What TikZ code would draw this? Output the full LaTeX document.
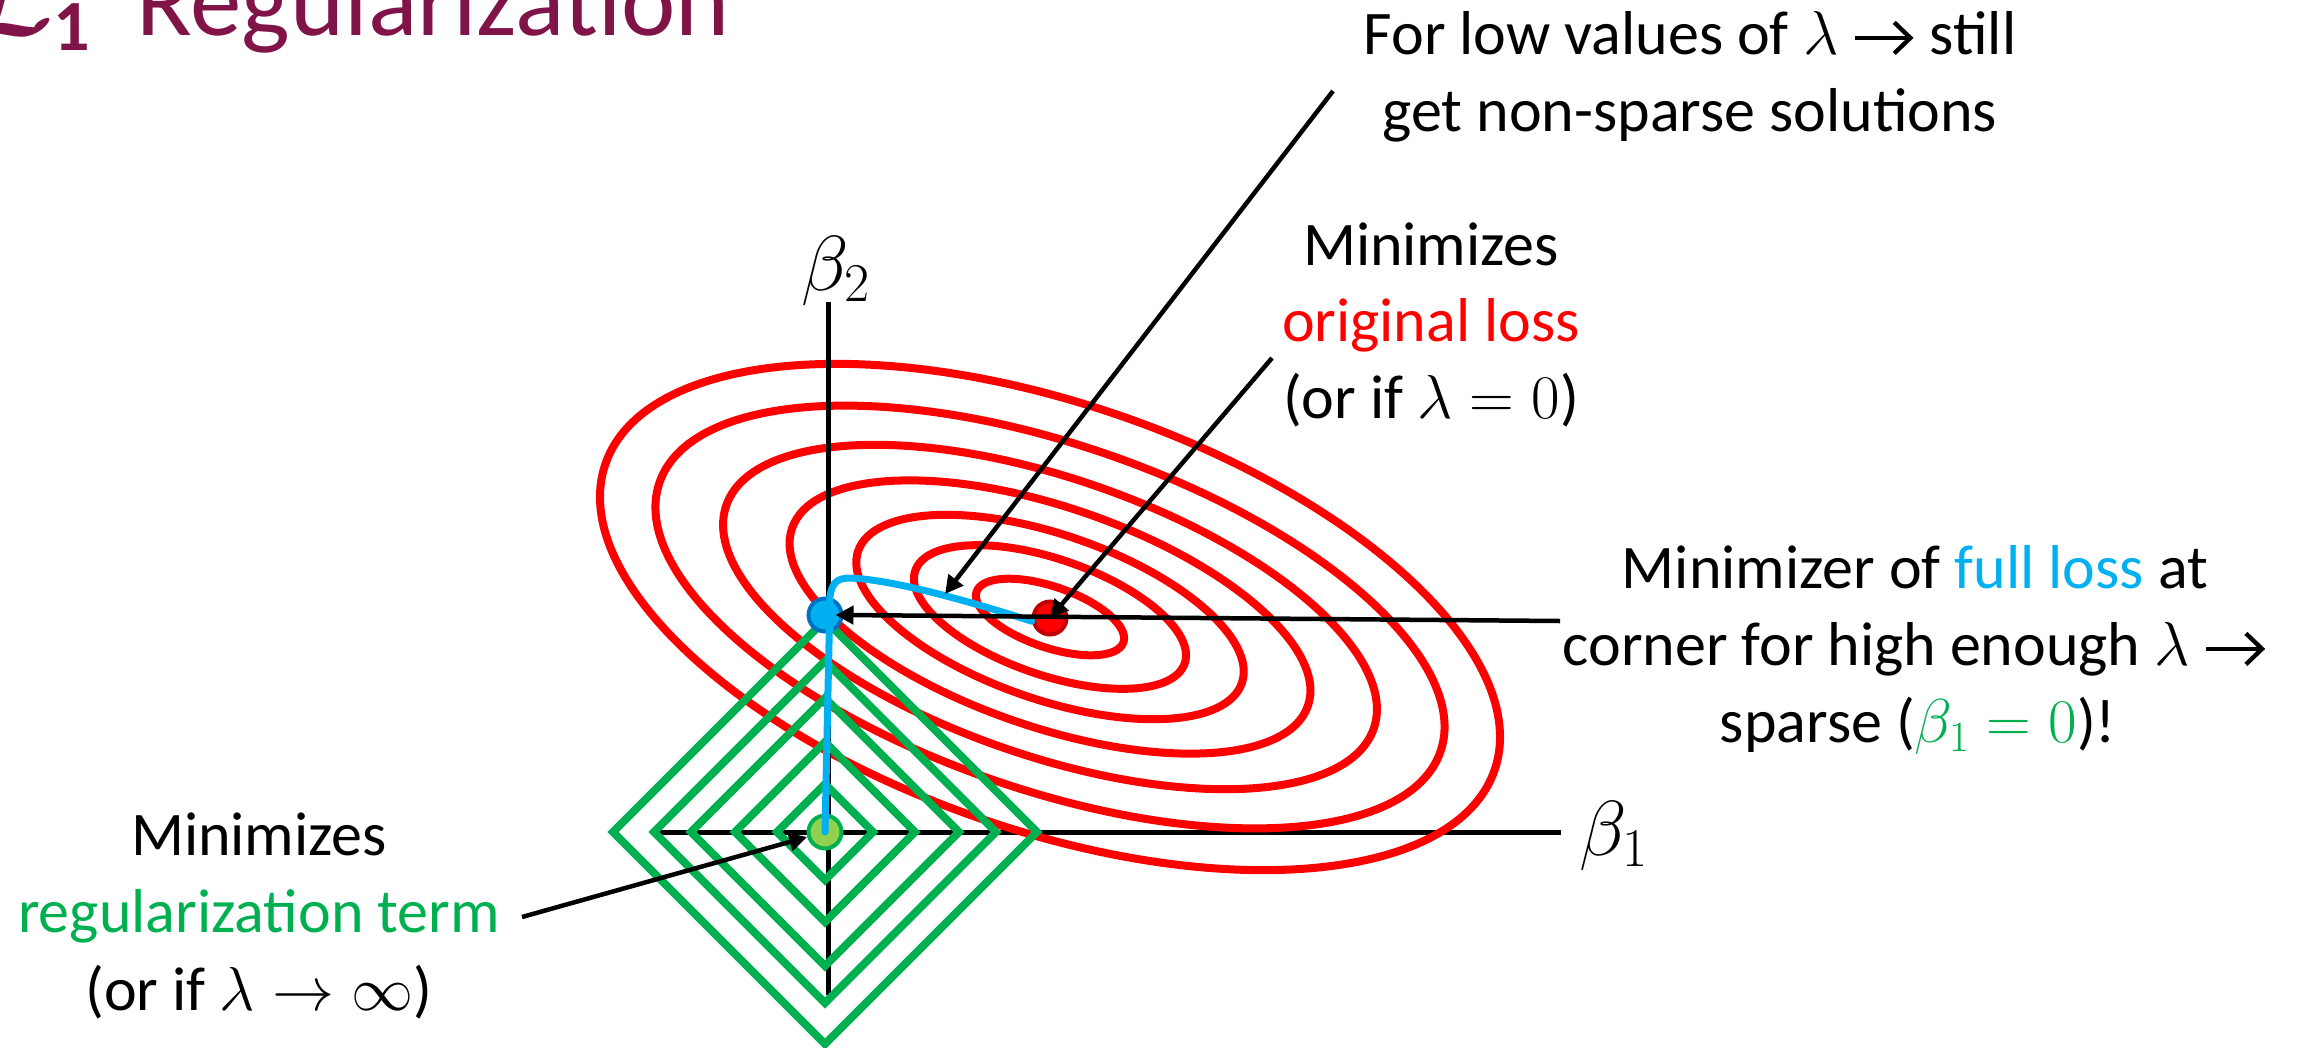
\RequirePackage{fix-cm}
\documentclass[tikz,border=0pt]{standalone}
\usepackage{amsmath}
\usepackage{fontspec}
\setmainfont{Carlito}
\usetikzlibrary{arrows.meta}
\definecolor{lossred}{RGB}{255,0,0}
\definecolor{regreen}{RGB}{0,176,80}
\definecolor{lightgreen}{RGB}{146,208,80}
\definecolor{fullblue}{RGB}{0,176,240}
\definecolor{darkblue}{RGB}{0,112,192}
\definecolor{darkred}{RGB}{192,0,0}
\definecolor{titlecol}{RGB}{128,20,72}
\newcommand{\thickarr}{\tikz[baseline=-0.26em]\draw[line width=0.07em, -{Straight Barb[length=0.26em, width=0.5em]}] (0,0) -- (0.95em,0);}
\begin{document}
\begin{tikzpicture}[x=1pt,y=1pt,
  txt/.style={font=\fontsize{62}{77}\selectfont, inner sep=0pt, anchor=base},
  axislabel/.style={font=\fontsize{78}{92}\selectfont, inner sep=0pt, anchor=base},
  titletxt/.style={font=\fontsize{103}{123}\selectfont, inner sep=0pt, anchor=base west, text=titlecol},
  contour/.style={draw=lossred, line width=8pt},
  level/.style={draw=regreen, line width=8pt, line join=miter},
  axisline/.style={draw=black, line width=5pt},
  pointer/.style={draw=black, line width=4.5pt, -{Triangle[length=18pt,width=18pt]}},
  dotnode/.style={circle, minimum size=33pt, inner sep=0pt, line width=4pt},
  pathline/.style={draw=fullblue, line width=7pt, line cap=round, line join=round}]
\useasboundingbox (0,0) rectangle (2305,-1047);
\clip (0,0) rectangle (2305,-1047);

% horizontal axis
\draw[axisline] (652,-832) -- (1561,-832);
% loss contours
\foreach \a/\b in {77.7/30.4, 142.5/58, 202.9/82.5, 272.8/109.8, 342.4/138.8, 413/172.5, 470.2/213.2}
  \draw[contour, rotate around={-19:(1050,-617)}] (1050,-617) ellipse [x radius=\a pt, y radius=\b pt];
% vertical axis
\draw[axisline] (828,-302) -- (828,-995);
% L1 level sets
\foreach \r in {48,90,134,171,212}
  \draw[level] (825+\r,-832) -- (825,-832-\r) -- (825-\r,-832) -- (825,-832+\r) -- cycle;

% points
\node[dotnode, fill=fullblue, draw=darkblue] (bluedot) at (825,-615) {};
\node[dotnode, fill=lossred, draw=darkred] (reddot) at (1050,-618) {};
\node[dotnode, fill=lightgreen, draw=regreen] (greendot) at (825,-832) {};

% regularization path
\draw[pathline] (reddot.190) .. controls (990,-608) and (900,-580) .. (850,-578)
  .. controls (836,-578) and (832,-584) .. (830,-596) -- (greendot.center);
\coordinate (lowtip) at (945,-594);

% axis labels
\node[axislabel] (b2) at (836,-290) {$\beta_2$};
\node[axislabel] (b1) at (1614,-855) {$\beta_1$};

% title
\node[titletxt] (title) at (-28,-35) {$\boldsymbol{\mathcal{L}}_{\mathbf{1}}$\hspace{46pt}Regularization};

% annotations
\node[txt] (low1) at (1690,-54) {For low values of $\lambda$ \thickarr{} still};
\node[txt] (low2) at (1690,-131) {get non-sparse solutions};
\node[txt] (orig1) at (1431,-265) {Minimizes};
\node[txt] (orig2) at (1431,-341) {\textcolor{lossred}{original loss}};
\node[txt] (orig3) at (1431,-418) {(or if $\lambda = 0$)};
\node[txt] (full1) at (1915,-588) {Minimizer of \textcolor{fullblue}{full loss} at};
\node[txt] (full2) at (1915,-665) {corner for high enough $\lambda$ \thickarr};
\node[txt] (full3) at (1918,-742) {sparse (\textcolor{regreen}{$\beta_1 = 0$})!};
\node[txt] (reg1) at (259,-855) {Minimizes};
\node[txt] (reg2) at (259,-932) {\textcolor{regreen}{regularization term}};
\node[txt] (reg3) at (259,-1010) {(or if $\lambda \rightarrow \infty$)};

% connectors
\coordinate (lowtail) at (1333,-91);
\coordinate (origtail) at (1272,-358);
\coordinate (fulltail) at (1560,-621);
\coordinate (regtail) at (522,-917);
\draw[pointer] (lowtail) -- (lowtip);
\draw[pointer] (origtail) -- (reddot.center);
\draw[pointer, shorten >=-8pt] (fulltail) -- (bluedot.east);
\draw[pointer] (regtail) -- (greendot);
\end{tikzpicture}
\end{document}
